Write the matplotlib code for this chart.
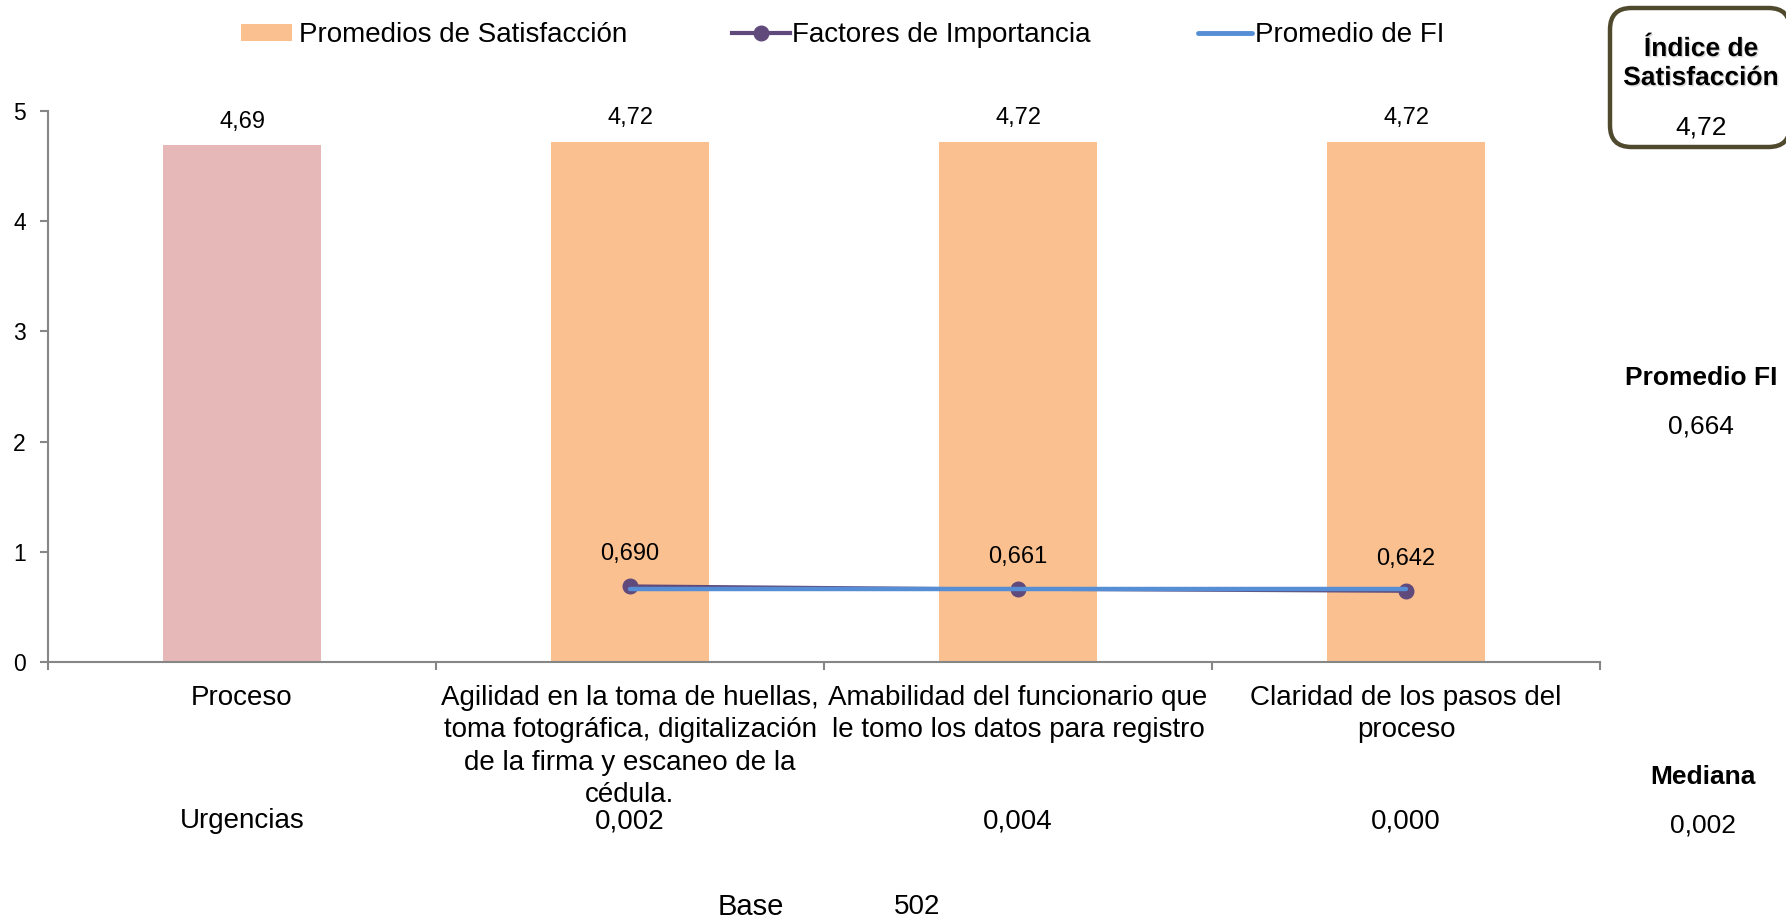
import matplotlib
matplotlib.use("Agg")
import matplotlib.pyplot as plt
from matplotlib.patches import FancyBboxPatch, Patch
from matplotlib.lines import Line2D
import matplotlib.patheffects as pe

plt.rcParams['font.family'] = ['Liberation Sans', 'DejaVu Sans']

categories = [
    "Proceso",
    "Agilidad en la toma de huellas,\ntoma fotográfica, digitalización\nde la firma y escaneo de la\ncédula.",
    "Amabilidad del funcionario que\nle tomo los datos para registro",
    "Claridad de los pasos del\nproceso",
]
satisfaction = [4.69, 4.72, 4.72, 4.72]
importance = [None, 0.690, 0.661, 0.642]
fi_average = 0.664
medians = ["Urgencias", "0,002", "0,004", "0,000"]
satisfaction_index = 4.72
median_total = 0.002
base_n = 502
yticks = [0, 1, 2, 3, 4, 5]

BAR_MAIN = "#E6B9B8"
BAR_ITEM = "#FAC090"
FI_COLOR = "#604A7B"
AVG_COLOR = "#558ED5"
AXIS_COLOR = "#868686"


def fmt(v, nd):
    return f"{v:.{nd}f}".replace(".", ",")


W, H = 1786, 919
fig = plt.figure(figsize=(W / 100, H / 100), dpi=100)
ax_top, ax_bot = 111, 662
ax = fig.add_axes([48 / W, 1 - ax_bot / H, (1600 - 48) / W, (ax_bot - ax_top) / H])

x = list(range(len(categories)))
bar_colors = [BAR_MAIN] + [BAR_ITEM] * (len(categories) - 1)
ax.bar(x, satisfaction, width=0.405, color=bar_colors, zorder=2)
for xi, v in zip(x, satisfaction):
    ax.annotate(fmt(v, 2), (xi, v), xytext=(0, 17), textcoords="offset points",
                ha="center", va="center", fontsize=17)

fx = [xi for xi, v in zip(x, importance) if v is not None]
fv = [v for v in importance if v is not None]
ax.plot(fx, fv, color=FI_COLOR, lw=2.3, marker="o", ms=10.5, zorder=3)
ax.plot([fx[0], fx[-1]], [fi_average, fi_average], color=AVG_COLOR, lw=3.2,
        solid_capstyle="round", zorder=4)
for xi, v in zip(fx, fv):
    ax.annotate(fmt(v, 3), (xi, v), xytext=(0, 23), textcoords="offset points",
                ha="center", va="center", fontsize=17)

ax.set_xlim(-0.5, len(categories) - 0.5)
ax.set_ylim(0, 5)
ax.set_yticks(yticks)
ax.set_yticklabels([str(t) for t in yticks], fontsize=16.5)
ax.set_xticks([i - 0.5 for i in range(len(categories) + 1)])
ax.set_xticklabels([])
ax.tick_params(axis="x", direction="out", length=6, width=1.5, color=AXIS_COLOR)
ax.tick_params(axis="y", direction="out", length=6, width=1.5, color=AXIS_COLOR, pad=10)
for s in ["top", "right"]:
    ax.spines[s].set_visible(False)
for s in ["left", "bottom"]:
    ax.spines[s].set_color(AXIS_COLOR)
    ax.spines[s].set_linewidth(1.5)

trans = ax.get_xaxis_transform()
span = ax_bot - ax_top
for xi, lab in zip(x, categories):
    ax.text(xi, -23 / span, lab, transform=trans, ha="center", va="top",
            fontsize=20, linespacing=1.32)
for xi, m in zip(x, medians):
    ax.text(xi, -(821 - ax_bot) / span, m, transform=trans, ha="center",
            va="center", fontsize=20)

# Legend, one entry at a time so each handle keeps its own length
legend_y = 1 - 35 / H
entries = [
    (Patch(facecolor=BAR_ITEM, edgecolor="none"), "Promedios de Satisfacción", 241, 1.84, 0.25),
    (Line2D([0], [0], color=FI_COLOR, lw=3, marker="o", ms=10.5), "Factores de Importancia", 732, 2.09, 0.07),
    (Line2D([0], [0], color=AVG_COLOR, lw=3.5, solid_capstyle="round"), "Promedio de FI", 1198, 1.94, 0.1),
]
for handle, label, left, hl, tp in entries:
    fig.legend([handle], [label], loc="center left", bbox_to_anchor=(left / W, legend_y),
               frameon=False, fontsize=20, handlelength=hl, handletextpad=tp,
               handleheight=0.58, borderpad=0, borderaxespad=0)

# Side panel
box = FancyBboxPatch((1610 / W, 1 - 147 / H), (1790 - 1610) / W, (147 - 8) / H,
                     boxstyle="round,pad=0,rounding_size=0.012", transform=fig.transFigure,
                     facecolor="white", edgecolor="#4F4A2E", lw=3.2, zorder=5,
                     mutation_aspect=W / H)
fig.add_artist(box)
txt_shadow = [pe.SimplePatchShadow(offset=(1.0, -1.0), shadow_rgbFace="#AAAAAA", alpha=0.45),
              pe.Normal()]
fig.text(1701 / W, 1 - 49 / H, "Índice de", ha="center", va="center", fontsize=19,
         fontweight="bold", zorder=6, path_effects=txt_shadow)
fig.text(1701 / W, 1 - 78 / H, "Satisfacción", ha="center", va="center", fontsize=19,
         fontweight="bold", zorder=6, path_effects=txt_shadow)
fig.text(1701 / W, 1 - 128 / H, fmt(satisfaction_index, 2), ha="center", va="center",
         fontsize=19, zorder=6)

fig.text(1701 / W, 1 - 378 / H, "Promedio FI", ha="center", va="center", fontsize=19,
         fontweight="bold")
fig.text(1701 / W, 1 - 427 / H, fmt(fi_average, 3), ha="center", va="center", fontsize=19)
fig.text(1703 / W, 1 - 777 / H, "Mediana", ha="center", va="center", fontsize=19,
         fontweight="bold")
fig.text(1703 / W, 1 - 825 / H, fmt(median_total, 3), ha="center", va="center", fontsize=19)

fig.text(751 / W, 1 - 907 / H, "Base", ha="center", va="center", fontsize=21)
fig.text(917 / W, 1 - 907 / H, str(base_n), ha="center", va="center", fontsize=20)

fig.savefig("out.png", dpi=100)
